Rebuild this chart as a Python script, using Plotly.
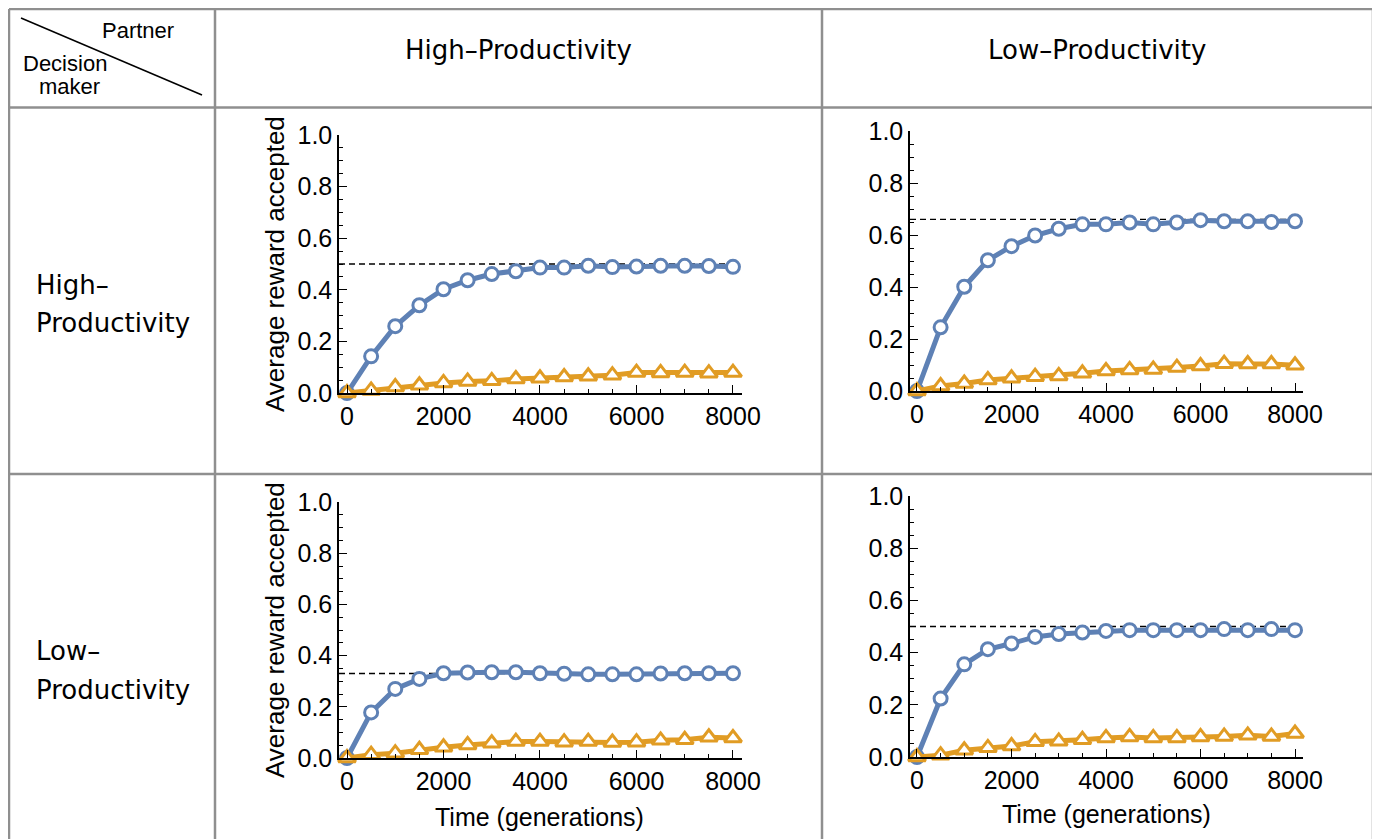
import plotly.graph_objects as go

# ---------------- data ----------------
time_gen = [0, 500, 1000, 1500, 2000, 2500, 3000, 3500, 4000, 4500,
            5000, 5500, 6000, 6500, 7000, 7500, 8000]

# Decision maker High, partner High
hh_blue = [0.0, 0.142, 0.259, 0.340, 0.402, 0.437, 0.461, 0.472, 0.486, 0.486,
           0.493, 0.488, 0.490, 0.493, 0.493, 0.492, 0.489]
hh_orange = [0.0, 0.010, 0.023, 0.030, 0.039, 0.045, 0.047, 0.054, 0.057, 0.062,
             0.065, 0.069, 0.079, 0.078, 0.079, 0.077, 0.079]
# Decision maker High, partner Low
hl_blue = [0.0, 0.245, 0.401, 0.503, 0.557, 0.598, 0.624, 0.641, 0.641, 0.648,
           0.641, 0.648, 0.657, 0.653, 0.653, 0.650, 0.653]
hl_orange = [0.0, 0.019, 0.029, 0.042, 0.049, 0.055, 0.058, 0.068, 0.077, 0.081,
             0.083, 0.090, 0.096, 0.105, 0.104, 0.104, 0.099]
# Decision maker Low, partner High
lh_blue = [0.0, 0.178, 0.270, 0.309, 0.331, 0.334, 0.335, 0.335, 0.331, 0.329,
           0.327, 0.327, 0.327, 0.330, 0.331, 0.331, 0.331]
lh_orange = [0.0, 0.013, 0.019, 0.032, 0.042, 0.051, 0.058, 0.064, 0.064, 0.062,
             0.064, 0.061, 0.062, 0.069, 0.071, 0.081, 0.078]
# Decision maker Low, partner Low
ll_blue = [0.0, 0.224, 0.355, 0.413, 0.435, 0.460, 0.471, 0.477, 0.483, 0.486,
           0.486, 0.486, 0.486, 0.490, 0.486, 0.490, 0.486]
ll_orange = [0.0, 0.007, 0.026, 0.035, 0.042, 0.058, 0.060, 0.066, 0.073, 0.077,
             0.073, 0.073, 0.077, 0.079, 0.083, 0.079, 0.090]

reference_levels = [0.5, 0.66, 0.33, 0.5]

col_labels = ["High\u2013Productivity", "Low\u2013Productivity"]
row_labels = [["High\u2013", "Productivity"], ["Low\u2013", "Productivity"]]
y_title = "Average reward accepted"
x_title = "Time (generations)"
x_ticks = [0, 2000, 4000, 6000, 8000]
y_ticks = [0.0, 0.2, 0.4, 0.6, 0.8, 1.0]

# ---------------- layout helpers ----------------
OFF = 8                      # page body margin
W, H = 1380 - OFF, 839 - OFF  # figure fits the visible window
BLUE = "#5E81B5"
ORANGE = "#E19C24"
GRID = "#8f8f8f"
TICKFONT = "Liberation Sans, Arial, sans-serif"
LABFONT = "DejaVu Sans, sans-serif"


def px(x):
    return (x - OFF) / W


def py(y):
    return 1 - (y - OFF) / H


# panel pixel boxes (window coordinates): left, right, top(y=1), bottom(y=0)
panels = [
    dict(l=339, r=742, t=135, b=393, xr=[-166, 8187]),
    dict(l=910, r=1303, t=131, b=391, xr=[-148, 8169]),
    dict(l=339, r=742, t=502, b=758, xr=[-166, 8187]),
    dict(l=910, r=1303, t=496, b=757, xr=[-148, 8169]),
]
blues = [hh_blue, hl_blue, lh_blue, ll_blue]
oranges = [hh_orange, hl_orange, lh_orange, ll_orange]

fig = go.Figure()
shapes = []
annotations = []

for i, p in enumerate(panels):
    n = "" if i == 0 else str(i + 1)
    xa, ya = "x" + n, "y" + n
    fig.add_trace(go.Scatter(
        x=time_gen, y=blues[i], mode="lines+markers", xaxis=xa, yaxis=ya,
        line=dict(color=BLUE, width=5),
        marker=dict(symbol="circle", size=13, color="white",
                    line=dict(color=BLUE, width=3)),
        cliponaxis=False, showlegend=False))
    fig.add_trace(go.Scatter(
        x=time_gen, y=oranges[i], mode="lines+markers", xaxis=xa, yaxis=ya,
        line=dict(color=ORANGE, width=5),
        marker=dict(symbol="triangle-up", size=15, color="white",
                    line=dict(color=ORANGE, width=3)),
        cliponaxis=False, showlegend=False))
    axis_common = dict(showgrid=False, zeroline=False, showline=True,
                       linecolor="black", linewidth=1.5, ticks="inside",
                       ticklen=8, tickwidth=1.3, tickcolor="black",
                       tickfont=dict(family=TICKFONT, size=25, color="black"),
                       fixedrange=True, automargin=False)
    fig.layout["xaxis" + n] = dict(
        domain=[px(p["l"]), px(p["r"])], range=p["xr"], anchor=ya,
        tickvals=x_ticks, ticktext=[str(v) for v in x_ticks],
        minor=dict(dtick=500, tick0=0, ticks="inside", ticklen=4,
                   tickcolor="black", tickwidth=1),
        **axis_common)
    fig.layout["yaxis" + n] = dict(
        domain=[py(p["b"]), py(p["t"])], range=[0, 1], anchor=xa,
        tickvals=y_ticks, ticktext=["%.1f" % v for v in y_ticks],
        minor=dict(dtick=0.05, tick0=0, ticks="inside", ticklen=4,
                   tickcolor="black", tickwidth=1),
        **axis_common)
    # dashed theoretical level
    shapes.append(dict(type="line", xref=xa, yref=ya,
                       x0=p["xr"][0], x1=time_gen[-1],
                       y0=reference_levels[i], y1=reference_levels[i],
                       line=dict(color="black", width=1.3, dash="6px,4px"),
                       layer="below"))

# axis titles
for (cx, cy) in [(275, 264), (275, 630)]:
    annotations.append(dict(text=y_title, x=px(cx), y=py(cy), xref="paper",
                            yref="paper", showarrow=False, textangle=-90,
                            font=dict(family=TICKFONT, size=26, color="black"),
                            xanchor="center", yanchor="middle"))
for (cx, cy) in [(539, 817), (1106, 814)]:
    annotations.append(dict(text=x_title, x=px(cx), y=py(cy), xref="paper",
                            yref="paper", showarrow=False,
                            font=dict(family=TICKFONT, size=25, color="black"),
                            xanchor="center", yanchor="middle"))

# column headers
for lab, cx in zip(col_labels, [518, 1097]):
    annotations.append(dict(text=lab, x=px(cx), y=py(50), xref="paper",
                            yref="paper", showarrow=False,
                            font=dict(family=LABFONT, size=26, color="black"),
                            xanchor="center", yanchor="middle"))
# row headers
for lines, (y1, y2) in zip(row_labels, [(285, 323), (651, 690)]):
    for t, yy in zip(lines, (y1, y2)):
        annotations.append(dict(text=t, x=px(34), y=py(yy), xref="paper",
                                yref="paper", showarrow=False,
                                font=dict(family=LABFONT, size=26, color="black"),
                                xanchor="left", yanchor="middle"))

# corner cell
for t, cx, cy in [("Partner", 138, 30), ("Decision", 65, 64), ("maker", 69, 87)]:
    annotations.append(dict(text=t, x=px(cx), y=py(cy), xref="paper",
                            yref="paper", showarrow=False,
                            font=dict(family=TICKFONT, size=22, color="black"),
                            xanchor="center", yanchor="middle"))
shapes.append(dict(type="line", xref="paper", yref="paper",
                   x0=px(21), y0=py(18), x1=px(202), y1=py(95),
                   line=dict(color="black", width=1.5)))

# table grid
TOP, LEFT = 9, 9
for x in [LEFT, 215, 822, 1373]:
    shapes.append(dict(type="line", xref="paper", yref="paper",
                       x0=px(x), x1=px(x), y0=py(TOP), y1=py(839),
                       line=dict(color=GRID, width=2.5)))
for y in [TOP, 107.5, 474]:
    shapes.append(dict(type="line", xref="paper", yref="paper",
                       x0=px(LEFT), x1=px(1373), y0=py(y), y1=py(y),
                       line=dict(color=GRID, width=2.5)))

fig.update_layout(width=W, height=H,
                  margin=dict(l=0, r=0, t=0, b=0, pad=0, autoexpand=False),
                  paper_bgcolor="white", plot_bgcolor="white",
                  shapes=shapes, annotations=annotations, showlegend=False)

fig.write_html("out.html")
